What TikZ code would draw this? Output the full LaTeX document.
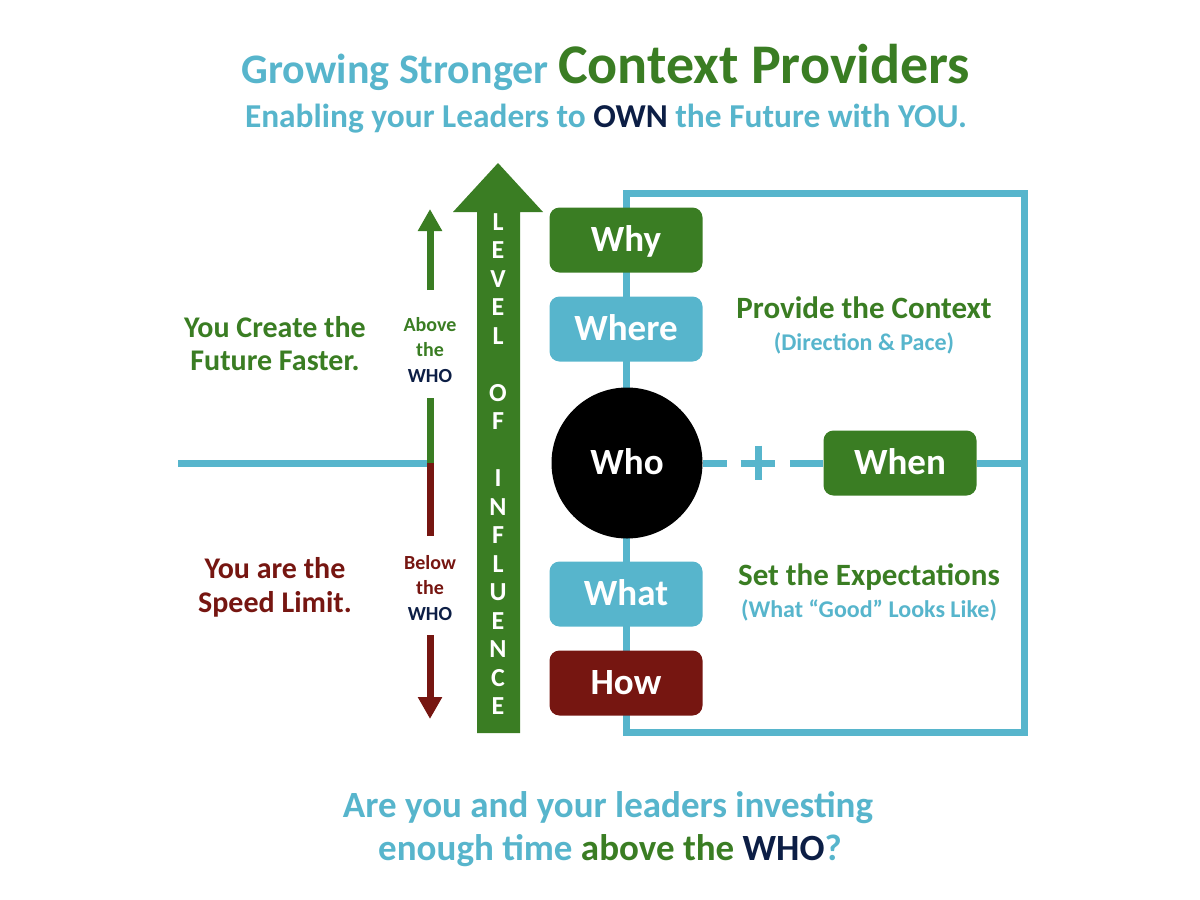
\documentclass[tikz,border=0pt]{standalone}
\usepackage{fontspec}
\setmainfont{Carlito}
\usetikzlibrary{arrows.meta}
\definecolor{skyblue}{HTML}{57B5CC}
\definecolor{leafgreen}{HTML}{3A7D23}
\definecolor{darkred}{HTML}{761611}
\definecolor{navy}{HTML}{0C1E45}
\begin{document}
\begin{tikzpicture}[x=0.5pt,y=-0.5pt,
    box/.style={rounded corners=5pt, minimum width=76.5pt, minimum height=32.5pt,
      text=white, text height=11.7pt, text depth=0pt,
      font=\fontsize{18.5}{20}\selectfont\bfseries},
    bar/.style={line width=3.5pt, skyblue},
    letter/.style={text=white, inner sep=0pt, text height=8.2pt, text depth=0pt,
      font=\fontsize{13}{13}\selectfont\bfseries},
    side/.style={anchor=base, font=\fontsize{15}{17}\selectfont\bfseries},
    small/.style={align=center, font=\fontsize{10}{12.75}\selectfont\bfseries}]
  \useasboundingbox (0,0) rectangle (1200,900);

  % headings
  \node[anchor=base, font=\bfseries] (title) at (606,83)
    {\fontsize{21}{24}\selectfont\textcolor{skyblue}{Growing Stronger}
     \fontsize{28}{30}\selectfont\textcolor{leafgreen}{Context Providers}};
  \node[anchor=base, text=skyblue, font=\fontsize{16.7}{18}\selectfont\bfseries] (subtitle) at (606,127)
    {Enabling your Leaders to \textcolor{navy}{OWN} the Future with YOU.};

  % frame
  \coordinate (nw) at (626,193);
  \coordinate (se) at (1024,732);
  \draw[bar] (nw) rectangle (se);

  % level of influence
  \fill[leafgreen] (477,733) -- (477,212) -- (453,212) -- (498,163)
    -- (543,212) -- (520,212) -- (520,733) -- cycle;
  \foreach \ch [count=\i from 0] in {L,E,V,E,L,{},O,F,{},I,N,F,L,U,E,N,C,E}
    \node[letter] (lv\i) at (498,{222+28.5*\i}) {\ch};

  % above / below
  \coordinate (lend) at (178,463);
  \coordinate (mid) at (430,463);
  \draw[bar] (lend) -- (mid);
  \node[small, text=leafgreen] (above) at (430,350) {Above\\the\\\textcolor{navy}{WHO}};
  \node[small, text=darkred] (below) at (430,588) {Below\\the\\\textcolor{navy}{WHO}};
  \draw[line width=3.5pt, leafgreen, -{Triangle[length=11pt,width=11.5pt]}] (430,290) -- (430,209);
  \draw[line width=3.5pt, leafgreen] (430,398) -- (mid);
  \draw[line width=3.5pt, darkred] (mid) -- (430,536);
  \draw[line width=3.5pt, darkred, -{Triangle[length=11pt,width=11.5pt]}] (430,635) -- (430,719);

  \node[side, text=leafgreen] (create1) at (275,337) {You Create the};
  \node[side, text=leafgreen] (create2) at (275,370) {Future Faster.};
  \node[side, text=darkred] (limit1) at (275,578) {You are the};
  \node[side, text=darkred] (limit2) at (275,612) {Speed Limit.};

  % the questions
  \node[box, fill=leafgreen] (why) at (626,240) {Why};
  \node[box, fill=skyblue] (where) at (626,329) {Where};
  \node[circle, fill=black, minimum size=75.5pt, text=white, text height=11.7pt, text depth=0pt,
    font=\fontsize{18.5}{20}\selectfont\bfseries] (who) at (627,463) {Who};
  \node[box, fill=skyblue] (what) at (626,594) {What};
  \node[box, fill=darkred] (how) at (626,683) {How};
  \node[box, fill=leafgreen] (when) at (900,463) {When};

  \node[minimum size=17pt, inner sep=0pt] (plus) at (758,463) {};
  \draw[bar] (plus.north) -- (plus.south) (plus.west) -- (plus.east);
  \draw[bar, shorten >=6.75pt] (who.east) -- (plus.west);
  \draw[bar, shorten <=7.5pt] (plus.east) -- (when.west);
  \draw[bar] (when.east) -- (when.east -| se);

  \node[side, text=leafgreen, font=\fontsize{15.5}{17}\selectfont\bfseries] (context) at (864,318) {Provide the Context};
  \node[side, text=skyblue, font=\fontsize{12}{14}\selectfont\bfseries] (pace) at (864,350) {(Direction \& Pace)};
  \node[side, text=leafgreen, font=\fontsize{15.5}{17}\selectfont\bfseries] (expect) at (869,585) {Set the Expectations};
  \node[side, text=skyblue, font=\fontsize{12}{14}\selectfont\bfseries] (good) at (869,617) {(What “Good” Looks Like)};

  % closing question
  \node[anchor=base, text=skyblue, font=\fontsize{18.5}{21}\selectfont\bfseries] (ask1) at (608,817)
    {Are you and your leaders investing};
  \node[anchor=base, text=skyblue, font=\fontsize{18.5}{21}\selectfont\bfseries] (ask2) at (610,860)
    {enough time \textcolor{leafgreen}{above the} \textcolor{navy}{WHO}?};
\end{tikzpicture}
\end{document}
